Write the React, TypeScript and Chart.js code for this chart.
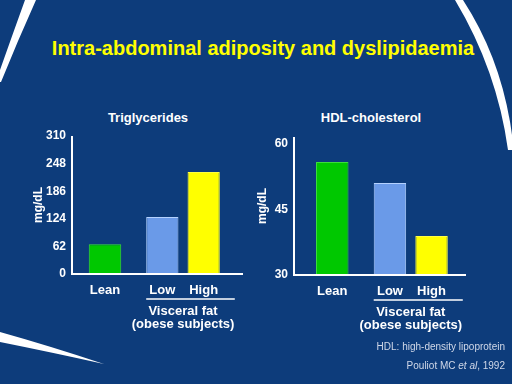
import React, { useEffect, useRef } from "react";
import { Chart, registerables } from "chart.js";

Chart.register(...registerables);

const groups = ["Lean", "Obese"];
const barLabels = ["Lean", "Low", "High"];
const groupLabel = ["Visceral fat", "(obese subjects)"];
const tgValues = [67, 128, 229];
const tgTicks = [0, 62, 124, 186, 248, 310];
const hdlValues = [55.8, 51, 38.9];
const hdlTicks = [30, 45, 60];
const yTitle = "mg/dL";

const barColors = ["#00c800", "#6a9ae8", "#ffff00"];
const barBorders = ["#3cdc3c", "#b4d2ff", "#ffff40"];
const FONT = '"Liberation Sans", Arial, sans-serif';

type Opts = {
  yMin: number;
  yMax: number;
  yWidth: number;
  tickPad: number;
  pad: { left: number; right: number; top: number; bottom: number };
  axisOff: number;
  xExtend: number;
  titleX: number;
};

function makeConfig(values: number[], ticks: number[], o: Opts): any {
  const datasets = values.map((v, i) => ({
    label: barLabels[i],
    data: i === 0 ? [v, null] : [null, v],
    backgroundColor: barColors[i],
    borderColor: barBorders[i],
    borderWidth: 1,
    skipNull: true,
    categoryPercentage: 1.06,
    barPercentage: 0.78,
    maxBarThickness: 32.5,
  }));
  const overlay = {
    id: "overlay",
    afterDatasetsDraw(chart: any) {
      const ctx = chart.ctx;
      const { left, right, top, bottom } = chart.chartArea;
      const ax = left + o.axisOff;
      ctx.save();
      ctx.strokeStyle = "#ffffff";
      ctx.lineWidth = 2;
      ctx.beginPath();
      ctx.moveTo(ax, top);
      ctx.lineTo(ax, bottom + 1);
      ctx.moveTo(ax - 1, bottom);
      ctx.lineTo(right + o.xExtend, bottom);
      ctx.stroke();

      const els = values.map((_, i) => chart.getDatasetMeta(i).data[i === 0 ? 0 : 1]);
      ctx.fillStyle = "#ffffff";
      ctx.font = `bold 13px ${FONT}`;
      ctx.textAlign = "center";
      ctx.textBaseline = "middle";
      els.forEach((el: any, i: number) => {
        ctx.fillText(barLabels[i], el.x, bottom + 16);
      });
      const low = els[1];
      const high = els[2];
      ctx.lineWidth = 1.5;
      ctx.beginPath();
      ctx.moveTo(low.x - low.width / 2, bottom + 25);
      ctx.lineTo(high.x + high.width / 2 + 15, bottom + 25);
      ctx.stroke();
      const gx = (low.x + high.x) / 2;
      ctx.fillText(groupLabel[0], gx, bottom + 37);
      ctx.fillText(groupLabel[1], gx, bottom + 50);

      ctx.font = `bold 12px ${FONT}`;
      ctx.translate(o.titleX, (top + bottom) / 2);
      ctx.rotate(-Math.PI / 2);
      ctx.fillText(yTitle, 0, 0);
      ctx.restore();
    },
  };
  return {
    type: "bar",
    data: { labels: groups, datasets },
    options: {
      responsive: false,
      animation: false,
      layout: { padding: o.pad },
      plugins: { legend: { display: false }, tooltip: { enabled: false }, title: { display: false } },
      scales: {
        x: {
          type: "category",
          display: false,
          offset: true,
          grid: { display: false },
        },
        y: {
          min: o.yMin,
          max: o.yMax,
          afterBuildTicks: (s: any) => {
            s.ticks = ticks.map((v) => ({ value: v }));
          },
          afterFit: (s: any) => {
            s.width = o.yWidth;
          },
          ticks: {
            color: "#ffffff",
            padding: o.tickPad,
            font: { family: FONT, size: 12, weight: "bold" },
          },
          grid: { display: false, drawTicks: false },
          border: { display: false },
        },
      },
    },
    plugins: [overlay],
  };
}

export default function App() {
  const leftRef = useRef<HTMLCanvasElement>(null);
  const rightRef = useRef<HTMLCanvasElement>(null);

  useEffect(() => {
    const c1 = new Chart(
      leftRef.current as HTMLCanvasElement,
      makeConfig(tgValues, tgTicks, {
        yMin: 0,
        yMax: 310,
        yWidth: 66,
        tickPad: 0,
        pad: { left: 0, right: 290, top: 136, bottom: 110 },
        axisOff: 6,
        xExtend: 21,
        titleX: 39,
      })
    );
    const c2 = new Chart(
      rightRef.current as HTMLCanvasElement,
      makeConfig(hdlValues, hdlTicks, {
        yMin: 30,
        yMax: 61.5,
        yWidth: 40,
        tickPad: 5,
        pad: { left: 253, right: 62, top: 137, bottom: 109 },
        axisOff: 1,
        xExtend: 16,
        titleX: 263,
      })
    );
    return () => {
      c1.destroy();
      c2.destroy();
    };
  }, []);

  const abs: React.CSSProperties = { position: "absolute" };

  return (
    <div
      style={{
        position: "absolute",
        left: 0,
        top: 0,
        width: 512,
        height: 384,
        background: "#0d3c7b",
        overflow: "hidden",
        fontFamily: FONT,
      }}
    >
      <svg width={512} height={384} style={{ ...abs, left: 0, top: 0 }}>
        <path d="M25 0 L36 0 Q18 40 1 82 L0 82 L0 70 Q12 36 25 0 Z" fill="#ffffff" />
        <path d="M455 0 Q497 70 508 150 L512 150 L512 135 Q502 60 463 0 Z" fill="#ffffff" />
        <path d="M0 332 Q50 346 104 364 Q50 352 0 342 Z" fill="#ffffff" />
      </svg>
      <div
        style={{
          ...abs,
          left: 7,
          top: 36,
          width: 512,
          textAlign: "center",
          color: "#ffff00",
          fontWeight: "bold",
          fontSize: 20,
          lineHeight: "24px",
          whiteSpace: "nowrap",
        }}
      >
        Intra-abdominal adiposity and dyslipidaemia
      </div>
      <div
        style={{
          ...abs,
          left: 48,
          top: 110,
          width: 200,
          textAlign: "center",
          color: "#ffffff",
          fontWeight: "bold",
          fontSize: 13,
          lineHeight: "15px",
        }}
      >
        Triglycerides
      </div>
      <div
        style={{
          ...abs,
          left: 271,
          top: 110,
          width: 200,
          textAlign: "center",
          color: "#ffffff",
          fontWeight: "bold",
          fontSize: 13,
          lineHeight: "15px",
        }}
      >
        HDL-cholesterol
      </div>
      <canvas ref={leftRef} width={512} height={384} style={{ ...abs, left: 0, top: 0 }} />
      <canvas ref={rightRef} width={512} height={384} style={{ ...abs, left: 0, top: 0 }} />
      <div
        style={{
          ...abs,
          right: 7,
          top: 341,
          textAlign: "right",
          color: "#d0d8e8",
          fontSize: 10,
          lineHeight: "12px",
          whiteSpace: "nowrap",
        }}
      >
        HDL: high-density lipoprotein
      </div>
      <div
        style={{
          ...abs,
          right: 7,
          top: 360,
          textAlign: "right",
          color: "#d0d8e8",
          fontSize: 10,
          lineHeight: "12px",
          whiteSpace: "nowrap",
        }}
      >
        Pouliot MC <i>et al</i>, 1992
      </div>
    </div>
  );
}
